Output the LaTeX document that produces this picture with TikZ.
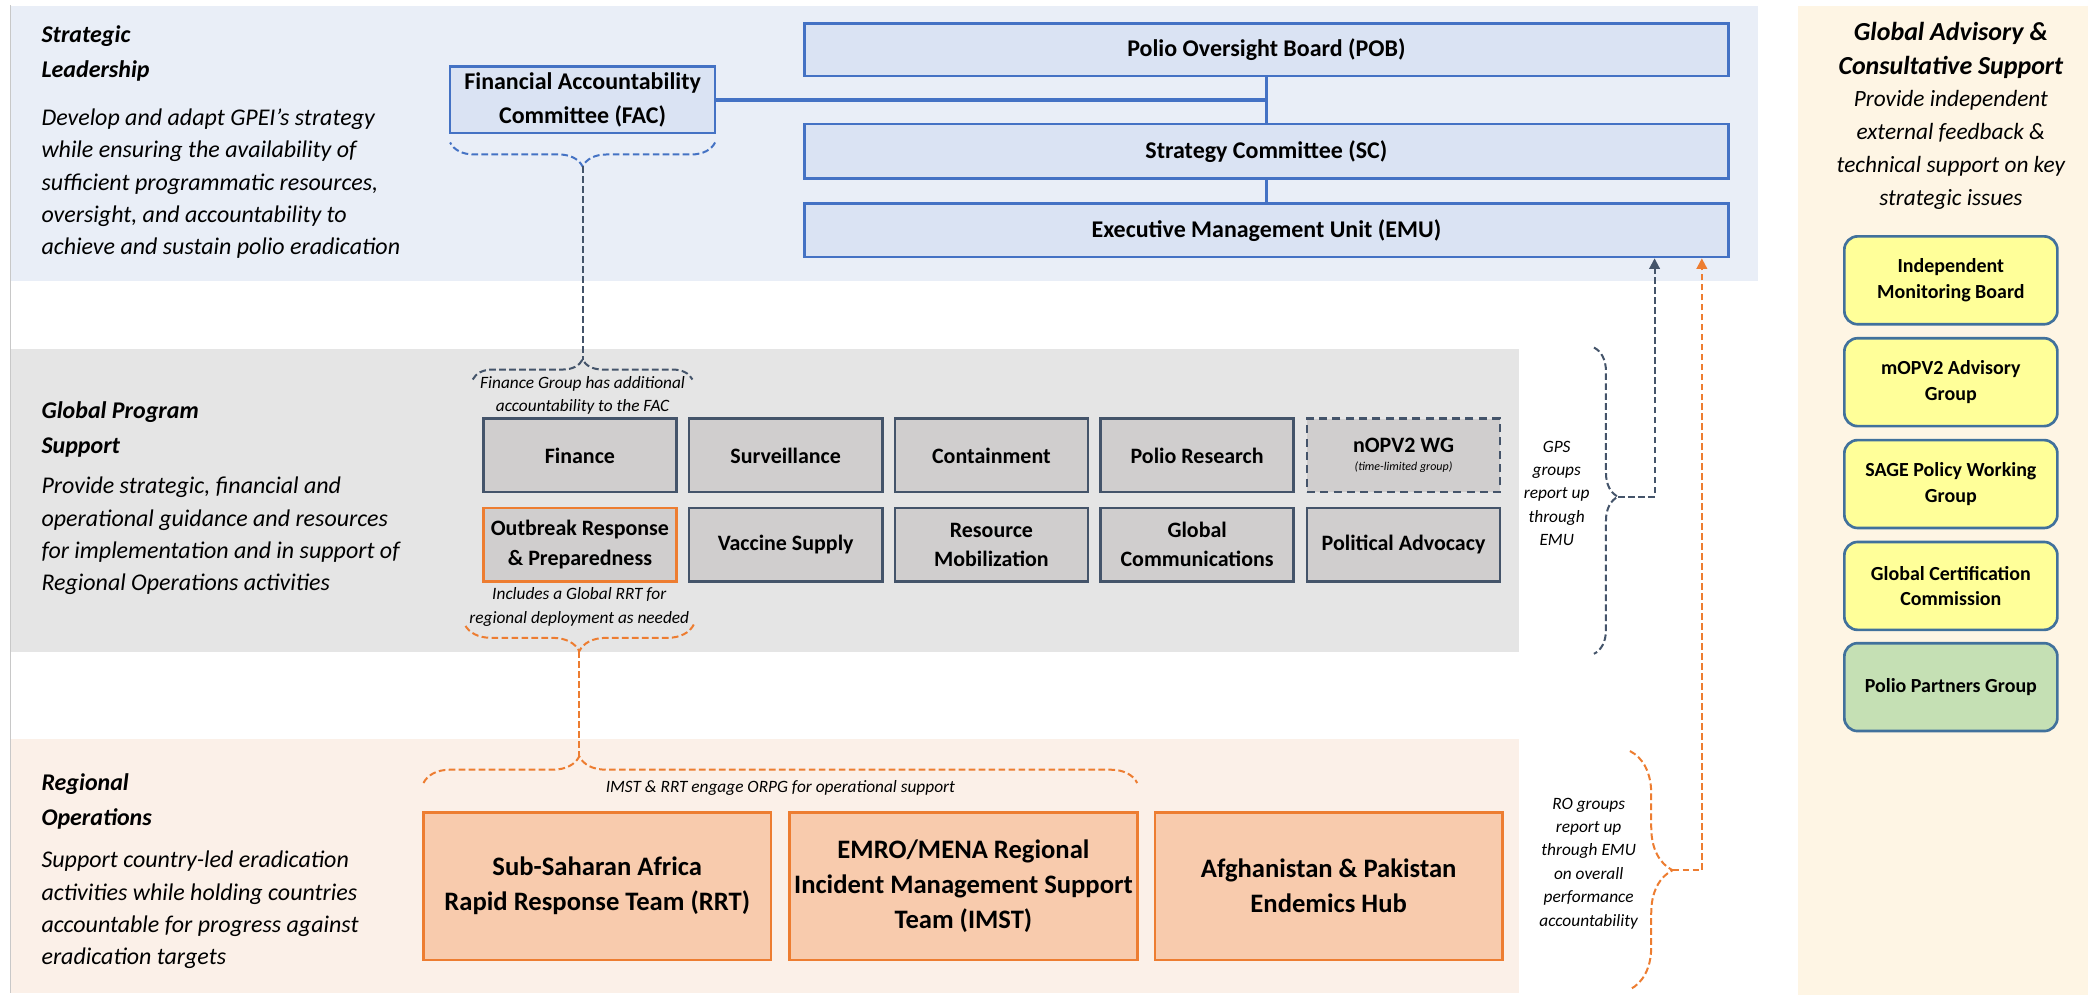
\documentclass[tikz,border=0pt]{standalone}
\usepackage{fontspec}
\setmainfont{Carlito}
\usetikzlibrary{arrows.meta,decorations.pathreplacing,calc}
\definecolor{stratBand}{HTML}{E9EEF7}
\definecolor{stratFill}{HTML}{DAE3F3}
\definecolor{stratLine}{HTML}{4472C4}
\definecolor{gpsBand}{HTML}{E5E5E5}
\definecolor{gpsFill}{HTML}{D0CECE}
\definecolor{gpsLine}{HTML}{44546A}
\definecolor{roBand}{HTML}{FBF0E8}
\definecolor{roFill}{HTML}{F8CBAD}
\definecolor{roLine}{HTML}{ED7D31}
\definecolor{panelFill}{HTML}{FEF5E4}
\definecolor{advYellow}{HTML}{FFFF99}
\definecolor{advGreen}{HTML}{C5E0B4}
\definecolor{advLine}{HTML}{41719C}
\definecolor{ruleGray}{HTML}{C8C8C8}
\begin{document}
\begin{tikzpicture}[x=1pt,y=-1pt,
  every node/.style={inner sep=0pt},
  sbox/.style={draw=stratLine, fill=stratFill, line width=2pt, align=center,
    font=\fontsize{18}{25}\selectfont\bfseries},
  gbox/.style={draw=gpsLine, fill=gpsFill, line width=2pt, align=center,
    minimum width=145pt, minimum height=55pt,
    font=\fontsize{16.5}{22}\selectfont\bfseries},
  rbox/.style={draw=roLine, fill=roFill, line width=2pt, align=center,
    minimum width=261pt, minimum height=111pt,
    font=\fontsize{20}{26.3}\selectfont\bfseries},
  abox/.style={draw=advLine, fill=advYellow, line width=2pt, rounded corners=10pt,
    align=center, minimum width=160pt, minimum height=66pt,
    font=\fontsize{15}{19}\selectfont\bfseries},
  headtext/.style={anchor=north west, align=left, font=\fontsize{18}{26.5}\selectfont\bfseries\itshape},
  bodytext/.style={anchor=north west, align=left, font=\fontsize{18}{24.3}\selectfont\itshape},
  notetext/.style={align=center, font=\fontsize{13}{17.5}\selectfont\itshape},
  sidetext/.style={anchor=north, align=center, font=\fontsize{13}{17.6}\selectfont\itshape},
  solidblue/.style={draw=stratLine, line width=2pt},
  slatedash/.style={draw=gpsLine, line width=1.5pt, dash pattern=on 5pt off 2.5pt},
  bluedash/.style={draw=stratLine, line width=1.5pt, dash pattern=on 5pt off 2.5pt},
  orangedash/.style={draw=roLine, line width=1.5pt, dash pattern=on 5pt off 2.5pt},
  uptip/.style={-{Triangle[width=8pt,length=8pt]}}
]
\useasboundingbox (0,0) rectangle (1568,747);

% background bands
\fill[white] (0,0) rectangle (1568,747);
\fill[stratBand] (8,4.5) rectangle (1320.5,211);
\fill[gpsBand] (8,262) rectangle (1141,489.5);
\fill[roBand] (8,555) rectangle (1141,745.5);
\fill[panelFill] (1350,4.5) rectangle (1568,747);
\draw[ruleGray, line width=1pt] (8,4) -- (8,746);

% section texts
\node[headtext] (slHead) at (31,13) {\strut Strategic\\Leadership};
\node[bodytext] (slBody) at (31,77) {\strut Develop and adapt GPEI’s strategy\\while ensuring the availability of\\sufficient programmatic resources,\\oversight, and accountability to\\achieve and sustain polio eradication};
\node[headtext] (gpsHead) at (31,295.5) {\strut Global Program\\Support};
\node[bodytext] (gpsBody) at (31,353.5) {\strut Provide strategic, financial and\\operational guidance and resources\\for implementation and in support of\\Regional Operations activities};
\node[headtext] (roHead) at (31,574.5) {\strut Regional\\Operations};
\node[bodytext] (roBody) at (31,634.5) {\strut Support country-led eradication\\activities while holding countries\\accountable for progress against\\eradication targets};

% strategic leadership boxes
\node[sbox, minimum width=199pt, minimum height=50pt] (fac) at (437.5,75) {Financial Accountability\\Committee (FAC)};
\node[sbox, minimum width=694pt, minimum height=39.5pt] (pob) at (951,37.25) {Polio Oversight Board (POB)};
\node[sbox, minimum width=694pt, minimum height=41pt] (sc) at (951,113.5) {Strategy Committee (SC)};
\node[sbox, minimum width=694pt, minimum height=40pt] (emu) at (951,173) {Executive Management Unit (EMU)};
\draw[solidblue] (pob.south) -- (sc.north);
\draw[solidblue] (sc.south) -- (emu.north);
\draw[solidblue, line width=2.6pt] (fac.east) -- (fac.east -| pob.south);

% GPS boxes
\node[gbox] (fin) at (435.5,342) {Finance};
\node[gbox] (surv) at (590,342) {Surveillance};
\node[gbox] (cont) at (744.5,342) {Containment};
\node[gbox] (res) at (899,342) {Polio Research};
\node[gbox, dash pattern=on 6pt off 4pt] (nopv) at (1054,342) {nOPV2 WG\\[-8pt]{\fontsize{9}{10}\selectfont\mdseries\itshape (time-limited group)}};
\node[gbox, draw=roLine] (orp) at (435.5,409) {Outbreak Response\\\& Preparedness};
\node[gbox] (vac) at (590,409) {Vaccine Supply};
\node[gbox] (rmob) at (744.5,409) {Resource\\Mobilization};
\node[gbox] (gcom) at (899,409) {Global\\Communications};
\node[gbox] (pol) at (1054,409) {Political Advocacy};

% RO boxes
\node[rbox] (ssa) at (448.5,665.5) {Sub-Saharan Africa\\Rapid Response Team (RRT)};
\node[rbox] (emro) at (723.5,665.5) {EMRO/MENA Regional\\Incident Management Support\\Team (IMST)};
\node[rbox] (afg) at (997.75,665.5) {Afghanistan \& Pakistan\\Endemics Hub};

% notes
\node[notetext, anchor=north] (finNote) at (437.5,279) {\strut Finance Group has additional\\accountability to the FAC};
\node[notetext, anchor=north] (orpNote) at (435,438) {\strut Includes a Global RRT for\\regional deployment as needed};
\node[notetext, anchor=base] (roNote) at (586,595.5) {IMST \& RRT engage ORPG for operational support};
\node[sidetext] (gpsSide) at (1169,327) {\strut GPS\\groups\\report up\\through\\EMU};
\node[sidetext] (roSide) at (1193,595) {\strut RO groups\\report up\\through EMU\\on overall\\performance\\accountability};

% braces and dashed links
\draw[bluedash, decorate, decoration={brace, amplitude=18pt}] (537,107) -- (338,107);
\coordinate (facTip) at (437.5,125);
\draw[slatedash, decorate, decoration={brace, amplitude=15pt}] (355,285) -- (520,285);
\coordinate (finTip) at (437.5,270);
\draw[slatedash] (facTip) -- (finTip);

\draw[orangedash, decorate, decoration={brace, amplitude=20pt}] (521,469) -- (349,469);
\coordinate (orpTip) at (435,489);
\draw[orangedash, decorate, decoration={brace, amplitude=20pt, aspect=0.2183}] (318,588) -- (854,588);
\coordinate (roTip) at (435,568);
\draw[orangedash] (orpTip) -- (roTip);

\draw[slatedash, decorate, decoration={brace, amplitude=18pt, aspect=0.487}] (1197,261) -- (1197,491);
\coordinate (gpsTip) at (1215,373);
\coordinate (gpsTurn) at (1242.5,373);
\draw[slatedash, uptip] (gpsTip) -- (gpsTurn) -- (gpsTurn |- emu.south);

\draw[orangedash, decorate, decoration={brace, amplitude=32pt}] (1224,564) -- (1224,743);
\coordinate (roSideTip) at (1256,653.5);
\coordinate (roTurn) at (1278,653.5);
\draw[orangedash, uptip] (roSideTip) -- (roTurn) -- (roTurn |- emu.south);

% advisory panel
\node[anchor=north, align=center, font=\fontsize{19.5}{26}\selectfont\bfseries\itshape] (advHead) at (1465,11.8) {\strut Global Advisory \&\\Consultative Support};
\node[anchor=north, align=center, font=\fontsize{17.5}{24.7}\selectfont\itshape] (advBody) at (1465,62.7) {\strut Provide independent\\external feedback \&\\technical support on key\\strategic issues};
\node[abox] (imb) at (1465,210.5) {Independent\\Monitoring Board};
\node[abox] (mopv) at (1465,287) {mOPV2 Advisory\\Group};
\node[abox] (sage) at (1465,363.5) {SAGE Policy Working\\Group};
\node[abox] (gcc) at (1465,440) {Global Certification\\Commission};
\node[abox, fill=advGreen] (ppg) at (1465,516) {Polio Partners Group};
\end{tikzpicture}
\end{document}
